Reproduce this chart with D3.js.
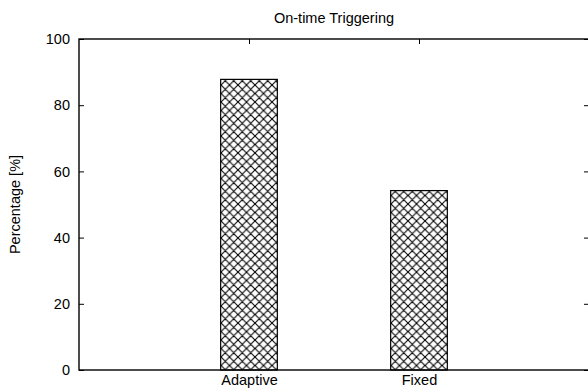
<!DOCTYPE html>
<html>
<head>
<meta charset="utf-8">
<script src="https://cdn.jsdelivr.net/npm/d3@7"></script>
<style>
  html, body { margin: 0; padding: 0; background: #fff; }
  svg { display: block; }
  text { font-family: "Liberation Sans", Arial, Helvetica, sans-serif; fill: #000; }
</style>
</head>
<body>
<script>
// Share of triggers fired on time, per scheduling strategy
const categories = ["Adaptive", "Fixed"];
const percentages = [87.8, 54.2];
const yTicks = [0, 20, 40, 60, 80, 100];
const title = "On-time Triggering";
const yLabel = "Percentage [%]";

const width = 588, height = 392;
const margin = { left: 79, top: 39, right: -1, bottom: 22 };
const fontSize = 14.5;

const svg = d3.select("body").append("svg")
  .attr("width", width).attr("height", height);

// Cross-hatch fill for the bars
const hw = 8.5, hh = 8.5;
const defs = svg.append("defs");
const pat = defs.append("pattern")
  .attr("id", "xhatch")
  .attr("patternUnits", "userSpaceOnUse")
  .attr("width", hw).attr("height", hh);
pat.append("rect").attr("width", hw).attr("height", hh).attr("fill", "#fff");
pat.append("path")
  .attr("d", `M0,0 L${hw},${hh} M${hw},0 L0,${hh} M-1,${hh - 1} L1,${hh + 1} M${hw - 1},-1 L${hw + 1},1 M-1,1 L1,-1 M${hw - 1},${hh + 1} L${hw + 1},${hh - 1}`)
  .attr("stroke", "#000").attr("stroke-width", 1.1).attr("fill", "none");

const x0 = margin.left, x1 = width - margin.right;
const y0 = height - margin.bottom, y1 = margin.top;

// Categories sit at positions 1 and 2 on a 0..3 axis
const x = d3.scaleLinear().domain([0, categories.length + 1]).range([x0, x1]);
const y = d3.scaleLinear().domain([0, 100]).range([y0, y1]);
const barW = (x(1) - x(0)) / 3;

// Bars
svg.append("g").selectAll("rect")
  .data(categories)
  .join("rect")
  .attr("x", (d, i) => x(i + 1) - barW / 2)
  .attr("y", (d, i) => y(percentages[i]))
  .attr("width", barW)
  .attr("height", (d, i) => y(0) - y(percentages[i]))
  .attr("fill", "url(#xhatch)")
  .attr("stroke", "#000")
  .attr("stroke-width", 1.2);

const tickLen = 5;
const styleText = g => g.selectAll("text")
  .attr("font-size", fontSize)
  .attr("font-family", "Liberation Sans, Arial, sans-serif");

// Left axis (ticks pointing inward)
const yAxisL = d3.axisLeft(y).tickValues(yTicks).tickSize(-tickLen).tickPadding(9).tickFormat(d3.format("d"));
svg.append("g").attr("transform", `translate(${x0},0)`).call(yAxisL)
  .call(g => g.select(".domain").remove())
  .call(styleText);

// Right mirror ticks
const yAxisR = d3.axisRight(y).tickValues(yTicks).tickSize(-tickLen).tickFormat("");
svg.append("g").attr("transform", `translate(${x1},0)`).call(yAxisR)
  .call(g => g.select(".domain").remove());

// Bottom axis with category labels
const xAxisB = d3.axisBottom(x).tickValues(categories.map((d, i) => i + 1))
  .tickSize(0).tickPadding(5).tickFormat((d) => categories[d - 1]);
svg.append("g").attr("transform", `translate(0,${y0})`).call(xAxisB)
  .call(g => g.select(".domain").remove())
  .call(styleText);

// Top mirror ticks
const xAxisT = d3.axisTop(x).tickValues(categories.map((d, i) => i + 1)).tickSize(-tickLen).tickFormat("");
svg.append("g").attr("transform", `translate(0,${y1})`).call(xAxisT)
  .call(g => g.select(".domain").remove());

// Plot frame
svg.append("rect")
  .attr("x", x0).attr("y", y1)
  .attr("width", x1 - x0).attr("height", y0 - y1)
  .attr("fill", "none").attr("stroke", "#000").attr("stroke-width", 1.4);

// Title
svg.append("text")
  .attr("x", (x0 + x1) / 2).attr("y", 23)
  .attr("text-anchor", "middle").attr("font-size", fontSize)
  .text(title);

// Y label
svg.append("text")
  .attr("transform", `translate(20,${(y0 + y1) / 2}) rotate(-90)`)
  .attr("text-anchor", "middle").attr("font-size", fontSize)
  .text(yLabel);
</script>
</body>
</html>
